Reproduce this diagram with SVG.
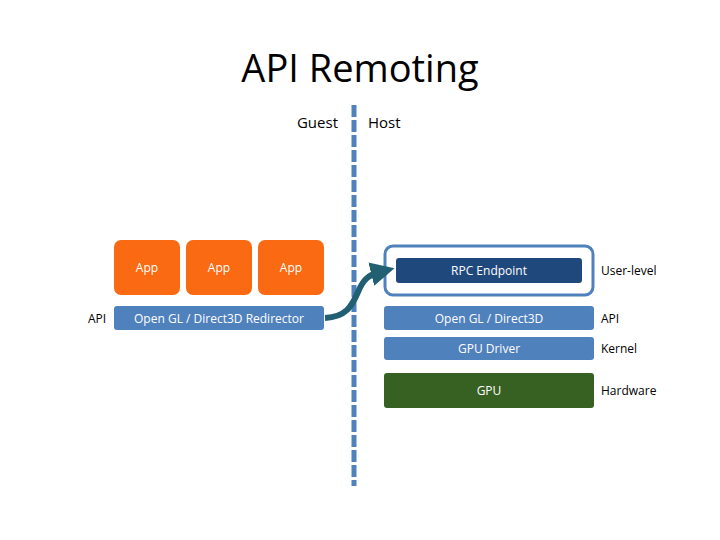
<svg xmlns="http://www.w3.org/2000/svg" width="720" height="540" viewBox="0 0 720 540">
<defs>
<style>
.t{font-family:"Open Sans","Liberation Sans",sans-serif;}
.w{fill:#fff;font-size:12px;text-anchor:middle;font-family:"Open Sans","Liberation Sans",sans-serif;}
.k{fill:#000;font-size:12px;font-family:"Open Sans","Liberation Sans",sans-serif;}
.app{fill:#f96a12;}
.blue{fill:#4f81bd;}
</style>
<marker id="ah" markerWidth="4" markerHeight="4" refX="1.5" refY="2" orient="auto" markerUnits="strokeWidth">
<path d="M0,0 L4,2 L0,4 Z" fill="#215f73"/>
</marker>
</defs>
<rect width="720" height="540" fill="#fff"/>
<text class="t" x="360" y="82" font-size="38" text-anchor="middle" fill="#000">API Remoting</text>
<text class="t" x="338" y="128" font-size="15" text-anchor="end" fill="#000">Guest</text>
<text class="t" x="368" y="128" font-size="15" fill="#000">Host</text>
<g id="divider"><line x1="354" y1="105" x2="354" y2="486" stroke="#4f81bd" stroke-width="5" stroke-dasharray="12,3"/></g>
<g id="app1"><rect class="app" x="114" y="240" width="66" height="55" rx="7"/><text class="w" x="147" y="272">App</text></g>
<g id="app2"><rect class="app" x="186" y="240" width="66" height="55" rx="7"/><text class="w" x="219" y="272">App</text></g>
<g id="app3"><rect class="app" x="258" y="240" width="66" height="55" rx="7"/><text class="w" x="291" y="272">App</text></g>
<g id="api-left"><text class="k" x="88" y="323">API</text></g>
<g id="redirector"><rect class="blue" x="114" y="306" width="210" height="24" rx="3"/><text class="w" x="219" y="323">Open GL / Direct3D Redirector</text></g>
<g id="rpc-container"><rect x="385" y="246" width="208" height="49" rx="8" fill="#fff" stroke="#4f81bd" stroke-width="3"/></g>
<g id="rpc"><rect x="396" y="258" width="186" height="25" rx="3" fill="#1f497d"/><text class="w" x="489" y="275">RPC Endpoint</text></g>
<g id="userlevel"><text class="k" x="601" y="275">User-level</text></g>
<g id="opengl"><rect class="blue" x="384" y="306" width="210" height="24" rx="3"/><text class="w" x="489" y="323">Open GL / Direct3D</text></g>
<g id="api-right"><text class="k" x="601" y="323">API</text></g>
<g id="driver"><rect class="blue" x="384" y="337" width="210" height="23" rx="3"/><text class="w" x="489" y="353">GPU Driver</text></g>
<g id="kernel"><text class="k" x="601" y="353">Kernel</text></g>
<g id="gpu"><rect x="384" y="373" width="210" height="35" rx="3" fill="#376023"/><text class="w" x="489" y="395">GPU</text></g>
<g id="hardware"><text class="k" x="601" y="395">Hardware</text></g>
<g id="connectors"><path d="M325,318 C346,317 352,306 358,292 C363,280 368,275 380,272" fill="none" stroke="#215f73" stroke-width="6" marker-end="url(#ah)"/></g>
</svg>
